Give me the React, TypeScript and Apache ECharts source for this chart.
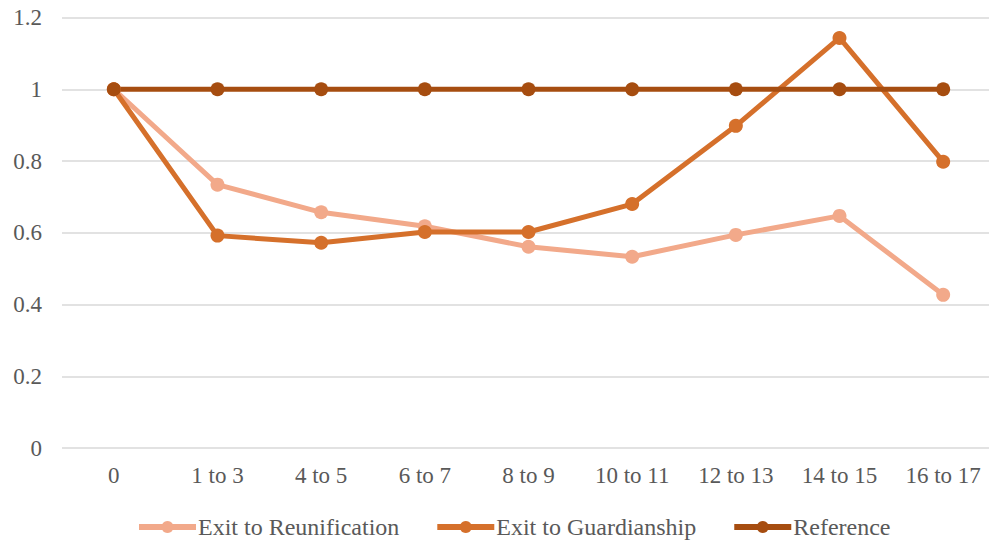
import React, { useEffect, useRef } from "react";
import * as echarts from "echarts";

const categories = ["0", "1 to 3", "4 to 5", "6 to 7", "8 to 9", "10 to 11", "12 to 13", "14 to 15", "16 to 17"];
const reunification = [1, 0.734, 0.657, 0.618, 0.561, 0.533, 0.594, 0.647, 0.427];
const guardianship = [1, 0.592, 0.572, 0.602, 0.602, 0.68, 0.898, 1.143, 0.798];
const reference = [1, 1, 1, 1, 1, 1, 1, 1, 1];
const seriesNames = ["Exit to Reunification", "Exit to Guardianship", "Reference"];
const colors = ["#F2A98A", "#D5702B", "#A64D10"];

export default function App() {
  const ref = useRef<HTMLDivElement>(null);
  useEffect(() => {
    if (!ref.current) return;
    const chart = echarts.init(ref.current, null, { renderer: "svg" });
    const font = "Liberation Serif";
    const data = [reunification, guardianship, reference];
    chart.setOption({
      animation: false,
      textStyle: { fontFamily: font },
      grid: { left: 62, width: 933, top: 17.5, bottom: 94, containLabel: false, outerBoundsMode: "none" },
      legend: {
        top: 515,
        left: 136,
        padding: 0,
        itemWidth: 57,
        itemHeight: 15,
        itemGap: 35,
        lineStyle: { width: 6 },
        textStyle: { fontFamily: font, fontSize: 24, color: "#595959", padding: [0, 0, 0, -3] },
        data: seriesNames,
      },
      xAxis: {
        type: "category",
        data: categories,
        boundaryGap: true,
        axisLine: { show: false },
        axisTick: { show: false },
        axisLabel: { fontFamily: font, fontSize: 23, color: "#595959", margin: 16 },
      },
      yAxis: {
        type: "value",
        min: 0,
        max: 1.2,
        interval: 0.2,
        axisLine: { show: false },
        axisTick: { show: false },
        splitLine: { lineStyle: { color: "#D9D9D9", width: 1.5 } },
        axisLabel: { fontFamily: font, fontSize: 23, color: "#595959", margin: 20, formatter: (v: number) => String(Math.round(v * 10) / 10) },
      },
      series: data.map((d, i) => ({
        name: seriesNames[i],
        type: "line",
        data: d,
        symbol: "circle",
        symbolSize: 14,
        color: colors[i],
        lineStyle: { width: 5, color: colors[i] },
        itemStyle: { color: colors[i] },
      })),
    });
    return () => chart.dispose();
  }, []);
  return <div ref={ref} style={{ position: "fixed", left: 0, top: 0, width: 989, height: 542, background: "#fff" }} />;
}
